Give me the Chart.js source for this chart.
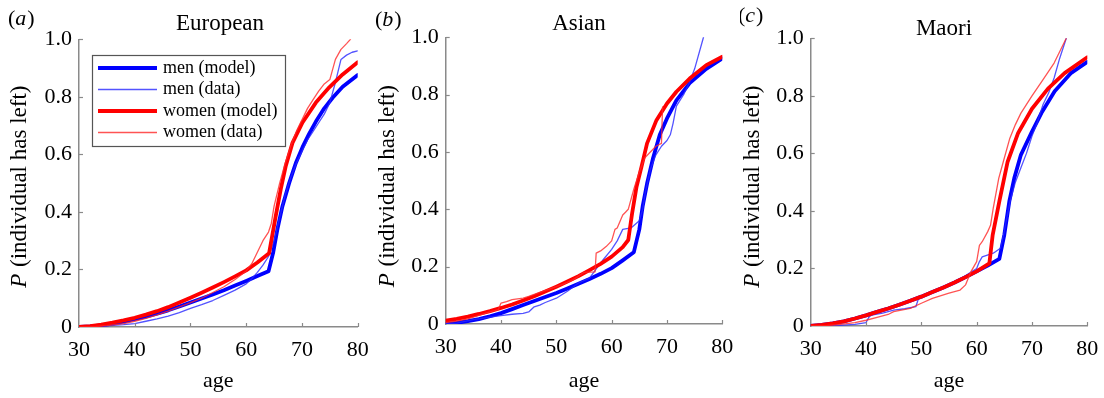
<!DOCTYPE html>
<html><head><meta charset="utf-8">
<script src="https://cdn.jsdelivr.net/npm/chart.js@4/dist/chart.umd.min.js"></script>
<style>
html,body{margin:0;padding:0;background:#fff;width:1104px;height:398px;overflow:hidden;}
canvas{position:absolute;top:0;}
</style></head><body>
<canvas id="ca" width="370" height="398" style="left:0px"></canvas>
<canvas id="cb" width="370" height="398" style="left:370px"></canvas>
<canvas id="cc" width="364" height="398" style="left:740px"></canvas>
<script>
// ---------- tick labels / names ----------
const xTickLabels = ['30','40','50','60','70','80'];
const yTickLabels = ['0','0.2','0.4','0.6','0.8','1.0'];
const xTickValues = [30,40,50,60,70,80];
const yTickValues = [0,0.2,0.4,0.6,0.8,1.0];
const panelTitles = ['European','Asian','Maori'];
const panelLetters = ['a','b','c'];
const seriesNames = ['men (model)','men (data)','women (model)','women (data)'];

// ---------- (a) European ----------
const euMenModelAge = [30,32,34,36,38,40,42,44,46,48,50,52,54,56,58,60,62,64,64.85,65.6,66.5,67.7,68.9,70.1,71.3,72.5,74,75.5,77.3,80];
const euMenModel    = [0,0.002,0.006,0.012,0.019,0.027,0.036,0.046,0.058,0.071,0.085,0.099,0.113,0.128,0.144,0.16,0.177,0.194,0.26,0.34,0.42,0.5,0.57,0.625,0.672,0.714,0.76,0.797,0.835,0.876];
const euMenDataAge  = [30,33,35,38,40,42,44,46,48,50,52,54,56,58,60,61,62,63,64,65,66,67,68,69,70,71,72,73,74,75,76,77,78,79,80];
const euMenData     = [0,0.002,0.004,0.008,0.012,0.02,0.028,0.038,0.05,0.065,0.078,0.092,0.11,0.128,0.15,0.168,0.19,0.215,0.245,0.3,0.38,0.46,0.52,0.57,0.61,0.65,0.68,0.71,0.74,0.78,0.85,0.93,0.945,0.955,0.96];
const euWomenModelAge = [30,32,34,36,38,40,42,44,46,48,50,52,54,56,58,60,62,64.1,65.3,66.2,67.1,68.3,70.1,72.5,74.9,77.3,80];
const euWomenModel    = [0,0.003,0.008,0.015,0.023,0.032,0.043,0.055,0.069,0.085,0.102,0.119,0.137,0.156,0.176,0.197,0.224,0.256,0.386,0.479,0.56,0.64,0.711,0.78,0.833,0.878,0.92];
const euWomenDataAge  = [30,33,35,38,40,42,44,46,48,50,52,54,56,58,60,61,62,63,64,64.5,65,66,67,68,69,70,71,72,73,74,75,76,77,78,78.7];
const euWomenData     = [0,0.002,0.005,0.012,0.02,0.03,0.042,0.055,0.07,0.085,0.1,0.12,0.14,0.165,0.195,0.22,0.26,0.3,0.33,0.36,0.42,0.5,0.57,0.63,0.68,0.72,0.76,0.79,0.82,0.845,0.86,0.93,0.965,0.985,1.0];

// ---------- (b) Asian ----------
const asMenModelAge = [30,32,34,36,38,40,42,44,46,48,50,52,54,56,58,60,62,64,65,65.6,66.4,67.5,68.7,70,71.7,74.1,77.1,80];
const asMenModel    = [0,0.004,0.01,0.017,0.027,0.038,0.052,0.066,0.08,0.094,0.108,0.124,0.14,0.157,0.175,0.195,0.222,0.25,0.33,0.41,0.49,0.58,0.66,0.717,0.78,0.84,0.89,0.926];
const asMenDataAge  = [30,32,35,38,40,42,44,45,46,47,48,50,52,54,56,57.5,58.5,60,61,62,63.5,65,65.6,66,67,68,69,70,70.6,71.1,71.7,73,74,75,76.6];
const asMenData     = [0,0.003,0.015,0.024,0.029,0.034,0.037,0.042,0.06,0.066,0.075,0.09,0.114,0.143,0.16,0.2,0.225,0.26,0.29,0.33,0.335,0.36,0.4,0.45,0.54,0.59,0.62,0.64,0.66,0.7,0.76,0.8,0.84,0.89,1.0];
const asWomenModelAge = [30,32,34,36,38,40,42,44,46,48,50,52,54,56,58,60,62,63,63.7,64.5,65.4,66.4,68.1,70,71.7,74.1,77.1,80];
const asWomenModel    = [0.012,0.018,0.026,0.035,0.045,0.056,0.068,0.082,0.097,0.113,0.13,0.148,0.167,0.188,0.21,0.235,0.268,0.293,0.386,0.479,0.549,0.63,0.711,0.769,0.81,0.856,0.903,0.932];
const asWomenDataAge  = [30,32,34,36,38,39.5,40,41,42,44,45,47,50,52,53,55,57,57.2,58,59,60,60.6,61,62,62.5,63,64,65,66,67,68,69,69.2];
const asWomenData     = [0.005,0.01,0.018,0.03,0.042,0.05,0.073,0.078,0.085,0.09,0.096,0.11,0.13,0.145,0.154,0.18,0.182,0.247,0.255,0.27,0.29,0.33,0.335,0.38,0.39,0.4,0.47,0.53,0.58,0.6,0.62,0.63,0.757];

// ---------- (c) Maori ----------
const maMenModelAge = [30,32,34,36,38,40,42,44,46,48,50,52,54,56,58,60,62,64.1,65,65.9,66.8,68,70,71.7,74.1,77.1,80];
const maMenModel    = [0,0.004,0.009,0.016,0.026,0.037,0.049,0.061,0.074,0.088,0.102,0.118,0.134,0.151,0.17,0.19,0.21,0.233,0.317,0.433,0.514,0.595,0.676,0.74,0.816,0.88,0.918];
const maMenDataAge  = [30,34,35,38,40,40.5,41,43,45,47,49,49.5,50,52,55,58,60,60.5,61,63,64.3,65,66,67,68,69,69.5,70,71,72,73,74,75,76.2];
const maMenData     = [0,0,0.002,0.006,0.012,0.03,0.038,0.045,0.055,0.06,0.067,0.096,0.1,0.118,0.143,0.175,0.2,0.224,0.24,0.253,0.27,0.33,0.43,0.5,0.55,0.6,0.63,0.66,0.71,0.77,0.81,0.862,0.93,1.0];
const maWomenModelAge = [30,32,34,36,38,40,42,44,46,48,50,52,54,56,58,60,62.3,62.9,64.1,65.6,67.5,70,72.9,75.9,80];
const maWomenModel    = [0,0.004,0.009,0.016,0.026,0.037,0.049,0.061,0.074,0.088,0.102,0.118,0.134,0.151,0.17,0.19,0.218,0.317,0.433,0.571,0.671,0.755,0.825,0.879,0.934];
const maWomenDataAge  = [30,33,35,38,40,42,44,45,48,50,52,55,57,58,59,60,60.5,61,62,62.5,63,64,65,66,67,68,70,72,74,76.2];
const maWomenData     = [0,0.002,0.005,0.012,0.02,0.03,0.04,0.05,0.061,0.079,0.096,0.114,0.125,0.143,0.19,0.224,0.28,0.293,0.328,0.35,0.41,0.514,0.584,0.653,0.7,0.74,0.8,0.856,0.914,1.0];

// ---------- styling ----------
const SERIF = "'Liberation Serif', 'DejaVu Serif', serif";
const AXIS_GREY = '#8a8a8a';
const seriesStyle = [
  {color:'#0000ff', width:3.8, order:4},
  {color:'rgba(40,40,255,0.8)', width:1.3, order:3},
  {color:'#ff0000', width:3.8, order:2},
  {color:'rgba(255,40,40,0.8)', width:1.3, order:1}
];

function pts(ages, vals){ return ages.map((a,i)=>({x:a, y:vals[i]})); }

const panels = [
  {id:'ca', series:[[euMenModelAge,euMenModel],[euMenDataAge,euMenData],[euWomenModelAge,euWomenModel],[euWomenDataAge,euWomenData]],
   yW:79, pad:{left:0,top:39.3,right:12.3,bottom:0}, xH:71, legend:true,
   letterX:8, letterBase:25, titleX:220, titleBase:30, yTitleOff:59, yTitleDy:4},
  {id:'cb', series:[[asMenModelAge,asMenModel],[asMenDataAge,asMenData],[asWomenModelAge,asWomenModel],[asWomenDataAge,asWomenData]],
   yW:75.7, pad:{left:0,top:37.3,right:17.7,bottom:0}, xH:74, legend:false,
   letterX:5, letterBase:26, titleX:209, titleBase:30, yTitleOff:58, yTitleDy:6},
  {id:'cc', series:[[maMenModelAge,maMenModel],[maMenDataAge,maMenData],[maWomenModelAge,maWomenModel],[maWomenDataAge,maWomenData]],
   yW:70.7, pad:{left:0,top:38.3,right:16.7,bottom:0}, xH:72, legend:false,
   letterX:-2, letterBase:22, titleX:204, titleBase:35, yTitleOff:58, yTitleDy:5}
];

function decorPlugin(p, idx){
  return {
    id:'decor'+idx,
    afterDraw(chart){
      const ctx = chart.ctx, ca = chart.chartArea;
      const xs = chart.scales.x, ys = chart.scales.y;
      ctx.save();
      ctx.strokeStyle = AXIS_GREY; ctx.lineWidth = 1.2;
      xTickValues.forEach(v=>{ if(v===30) return; const px = Math.round(xs.getPixelForValue(v))+0.5;
        ctx.beginPath(); ctx.moveTo(px, ca.bottom); ctx.lineTo(px, ca.bottom-4); ctx.stroke(); });
      yTickValues.forEach(v=>{ if(v===0) return; const py = Math.round(ys.getPixelForValue(v))+0.5;
        ctx.beginPath(); ctx.moveTo(ca.left, py); ctx.lineTo(ca.left+4, py); ctx.stroke(); });
      ctx.fillStyle = '#000';
      ctx.textBaseline = 'alphabetic'; ctx.textAlign = 'left';
      let x = p.letterX;
      ctx.font = '22px ' + SERIF; ctx.fillText('(', x, p.letterBase); x += ctx.measureText('(').width;
      ctx.font = 'italic 22px ' + SERIF; ctx.fillText(panelLetters[idx], x, p.letterBase); x += ctx.measureText(panelLetters[idx]).width + 1;
      ctx.font = '22px ' + SERIF; ctx.fillText(')', x, p.letterBase);
      ctx.font = '23px ' + SERIF; ctx.textAlign = 'center';
      ctx.fillText(panelTitles[idx], p.titleX, p.titleBase);
      const cy = (ca.top + ca.bottom)/2 + p.yTitleDy;
      const cx = ca.left - p.yTitleOff;
      ctx.translate(cx, cy); ctx.rotate(-Math.PI/2);
      ctx.textAlign = 'left'; ctx.textBaseline = 'middle';
      ctx.font = 'italic 23px ' + SERIF; const w1 = ctx.measureText('P').width;
      const rest = ' (individual has left)';
      ctx.font = '23px ' + SERIF; const w2 = ctx.measureText(rest).width;
      const sx = -(w1+w2)/2;
      ctx.font = 'italic 23px ' + SERIF; ctx.fillText('P', sx, 0);
      ctx.font = '23px ' + SERIF; ctx.fillText(rest, sx + w1 + 1, 0);
      ctx.setTransform(1,0,0,1,0,0);
      if (p.legend){
        ctx.fillStyle = '#fff'; ctx.fillRect(92.5, 55.5, 193, 91);
        ctx.strokeStyle = '#555'; ctx.lineWidth = 1.2; ctx.strokeRect(92.5, 55.5, 193, 91);
        const rows = [68, 89.5, 111, 132.5];
        ctx.font = '18px ' + SERIF; ctx.textAlign = 'left'; ctx.textBaseline = 'middle';
        seriesNames.forEach((n,i)=>{
          const st = seriesStyle[i];
          ctx.strokeStyle = st.color; ctx.lineWidth = st.width; ctx.lineCap = 'butt';
          ctx.beginPath(); ctx.moveTo(98, rows[i]); ctx.lineTo(157, rows[i]); ctx.stroke();
          ctx.fillStyle = '#000'; ctx.fillText(n, 163, rows[i]);
        });
      }
      ctx.restore();
    }
  };
}

panels.forEach((p, idx)=>{
  const datasets = p.series.map((s,i)=>({
    label: seriesNames[i],
    data: pts(s[0], s[1]),
    borderColor: seriesStyle[i].color,
    borderWidth: seriesStyle[i].width,
    order: seriesStyle[i].order,
    pointRadius: 0, tension: 0, fill: false,
    borderJoinStyle: 'round', borderCapStyle: 'round'
  }));
  new Chart(document.getElementById(p.id), {
    type: 'line',
    data: { datasets },
    options: {
      responsive: false, animation: false, devicePixelRatio: 1,
      layout: { padding: p.pad },
      plugins: { legend: {display:false}, tooltip: {enabled:false}, title:{display:false} },
      scales: {
        x: {
          type: 'linear', min: 30, max: 80, position: 'bottom',
          grid: { display: false, drawTicks: false },
          border: { display: true, color: AXIS_GREY, width: 1.5 },
          ticks: { stepSize: 10, padding: 10, color: '#000', maxRotation: 0, autoSkip: false,
                   font: { family: SERIF, size: 22 },
                   callback: (v, i) => xTickLabels[i] },
          title: { display: true, text: 'age', color: '#000', font: { family: SERIF, size: 22 },
                   padding: { top: 0, bottom: 4 } },
          afterFit(s){ s.height = p.xH; s.paddingLeft = 0; s.paddingRight = 0; }
        },
        y: {
          type: 'linear', min: 0, max: 1, position: 'left',
          grid: { display: false, drawTicks: false },
          border: { display: true, color: AXIS_GREY, width: 1.5 },
          ticks: { stepSize: 0.2, padding: 7, color: '#000',
                   font: { family: SERIF, size: 22 },
                   callback: (v, i) => yTickLabels[i] },
          afterFit(s){ s.width = p.yW; s.paddingTop = 0; s.paddingBottom = 0; }
        }
      }
    },
    plugins: [decorPlugin(p, idx)]
  });
});
</script>
</body></html>
